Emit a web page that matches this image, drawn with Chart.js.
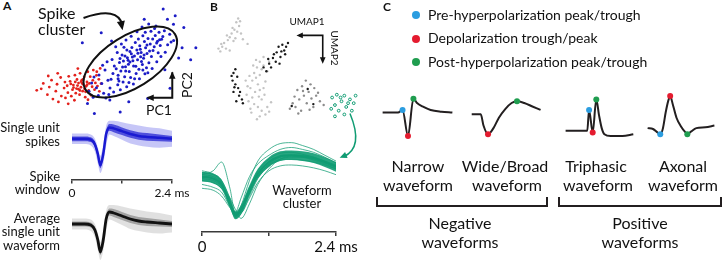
<!DOCTYPE html>
<html>
<head>
<meta charset="utf-8">
<script src="https://cdn.jsdelivr.net/npm/chart.js@4.4.1/dist/chart.umd.min.js"></script>
<style>
body { margin: 0; background: #fff; width: 724px; height: 263px; overflow: hidden; position: relative; font-family: Lato, sans-serif; color: #111; }
canvas { position: absolute; }
.t { position: absolute; white-space: nowrap; }
.dot { position: absolute; width: 8px; height: 8px; border-radius: 50%; }
.br { position: absolute; border: 2px solid #231f20; border-top: none; height: 8px; }
</style>
</head>
<body>
<canvas id="pca" style="left:25px;top:0px" width="180" height="126"></canvas>
<canvas id="umap" style="left:205px;top:5px" width="165" height="170"></canvas>
<canvas id="spk" style="left:62px;top:116px" width="130" height="86"></canvas>
<canvas id="avg" style="left:62px;top:198px" width="130" height="65"></canvas>
<canvas id="grn" style="left:192px;top:130px" width="168" height="128"></canvas>
<canvas id="cNarrow" style="left:375px;top:86px" width="85" height="60"></canvas>
<canvas id="cWide" style="left:465px;top:86px" width="85" height="60"></canvas>
<canvas id="cTri" style="left:558px;top:86px" width="82" height="60"></canvas>
<canvas id="cAxon" style="left:640px;top:86px" width="82" height="60"></canvas>
<div class="br" style="left:376px;top:197px;width:168px"></div>
<div class="br" style="left:558px;top:197px;width:160px"></div>
<script>
// ---- Data ----
// PCA space (PC1, PC2), arbitrary units
const redPC = [
  [-4.55,-1.62],[-4.17,-1.21],[-3.93,-1.88],[-3.82,-1.43],[-3.61,-2.14],[-3.69,-1.02],[-3.44,-1.67],[-3.29,-2.31],[-3.37,-1.26],[-3.12,-1.96],
  [-3.16,-0.86],[-2.96,-1.49],[-2.88,-2.07],[-2.91,-1.13],[-2.74,-1.76],[-2.69,-0.79],[-2.78,-1.35],[-2.54,-1.97],[-2.61,-1.09],[-2.47,-1.58],
  [-2.42,-1.31],[-2.36,-2.21],[-2.33,-0.72],[-2.28,-1.79],[-2.21,-0.98],[-2.24,-1.52],[-2.12,-1.19],[-2.06,-1.88],[-2.03,-0.61],[-1.98,-1.44],
  [-1.93,-1.02],[-1.88,-1.67],[-1.84,-1.27],[-1.79,-0.83],[-1.73,-2.03],[-1.68,-1.38],[-1.63,-1.12],[-1.58,-0.52],[-1.53,-1.63],[-1.49,-1.21],
  [-1.44,-0.81],[-1.39,-1.92],[-1.33,-1.41],[-1.29,-1.03],[-1.26,-0.42],[-1.19,-1.58],[-1.14,-1.18],[-1.08,-0.73],[-1.02,-1.37],[-0.94,-0.97],
  [-0.91,-1.68],[-0.86,-0.32],[-0.81,-1.22],[-3.88,-0.77],[-4.29,-1.53],[-3.33,-0.61],[-2.72,-2.42],[-1.57,-2.18],[-2.16,-0.33],[-1.06,-0.52],
  [-2.18,-1.34],[-1.91,-1.21],[-2.31,-1.12],[-1.77,-1.53],[-2.04,-1.63],[-1.62,-1.29],[-2.41,-1.46],[-1.86,-0.98],[-2.57,-1.24],[-1.71,-1.71],
  [-2.12,-1.55],[-1.97,-1.11]
];
const bluePC = [
  [1.13,0.41],[0.87,0.06],[1.52,0.63],[0.61,-0.22],[1.78,0.91],[0.34,-0.47],[2.05,1.12],[1.31,0.19],[0.95,0.55],[1.66,0.28],
  [0.72,0.31],[1.44,1.02],[2.21,0.74],[0.18,-0.73],[1.92,1.46],[0.49,0.12],[1.08,-0.18],[2.47,1.29],[1.27,0.77],[0.83,-0.51],
  [1.59,-0.09],[2.12,0.38],[0.26,0.03],[1.71,1.27],[0.98,0.92],[2.34,1.63],[0.56,-0.81],[1.39,-0.37],[1.86,0.57],[0.41,0.48],
  [2.63,1.04],[1.18,1.21],[0.07,-0.34],[1.97,0.02],[0.69,0.77],[2.28,0.96],[1.49,0.37],[0.91,-0.86],[1.62,1.61],[0.23,-1.07],
  [2.56,1.82],[1.04,0.14],[1.83,-0.28],[0.52,0.94],[2.09,1.89],[0.78,-0.07],[1.36,1.43],[2.71,1.41],[-0.12,-0.62],[1.23,-0.62],
  [-0.41,-1.03],[-0.77,-1.21],[-1.08,-1.47],[-1.36,-1.18],[-0.58,-0.42],[-0.93,-0.71],[-1.22,-0.83],[-1.51,-1.68],[-0.29,-1.49],[-0.66,-1.79],
  [-0.17,0.21],[0.13,0.62],[0.37,1.13],[-0.46,0.07],[0.64,1.37],[0.94,1.58],[1.28,1.86],[1.57,2.13],[1.96,2.31],[2.38,2.19],
  [2.87,1.92],[3.18,1.71],[3.41,1.33],[3.06,1.08],[2.92,0.64],[2.67,0.39],[2.43,0.08],[2.16,-0.33],[1.74,-0.64],[1.42,-0.93],
  [1.07,-1.24],[0.68,-1.41],[0.31,-1.58],[-0.08,-1.72],[-0.53,-2.07],[-0.97,-1.93],[0.47,-1.12],[0.16,-1.29],[-0.23,-0.96],[0.04,0.97],
  [0.58,0.42],[-0.72,-0.14],[2.78,1.57],[3.26,1.24],[2.51,0.61],[1.91,-0.58],[1.14,-0.94],[0.81,-1.16],[-0.36,-1.87],[-1.27,-2.03],
  [1.47,0.82],[0.29,0.27],[1.69,0.47],[2.01,0.71],[0.76,0.17],[1.33,0.58],[1.86,1.07],[0.62,-0.48],[2.19,1.42],[0.44,-0.24],
  [1.01,0.36],[1.54,0.09],[2.42,1.18],[0.87,0.68],[1.21,-0.19],[-0.04,-0.18],[1.76,1.83],[2.59,1.38],[0.18,-0.94],[1.62,-0.41],
  [4.7,0.9],[3.5,2.8],[2.8,3.2],[3.9,0.9],[1.9,-2.1],[0.3,-2.9],[-1.2,-3.0],[2.3,2.05],[4.4,0.2],[-0.2,1.3],
  [1.7,2.6],[-0.8,1.8],[-1.9,1.2],[0.8,-2.3],[-0.3,-2.2],[3.2,-1.5],[3.05,2.6],[4.0,2.1],[3.7,0.3],[2.9,-0.4],
  [-1.6,-2.4],[3.4,2.3]
];

// UMAP embedding, arbitrary units
const umapLight = [
  [3.0,11.1],[2.8,10.7],[3.1,10.3],[2.6,9.9],[2.3,9.5],[2.1,9.1],[1.9,8.8],[1.5,8.5],[1.3,8.1],[1.7,7.9],
  [2.5,8.7],[3.3,9.5],[2.9,9.7],[3.5,8.9],[2.1,7.7],[1.1,7.6],[0.9,7.9],
  [5.7,7.0],[5.3,6.5],[5.0,5.9],[5.7,6.1],[4.7,5.3],[5.3,5.1],[4.5,4.5],[5.1,4.1],[4.3,3.7],[4.8,3.3],
  [5.3,3.5],[4.5,2.7],[4.1,2.3],[4.7,2.0],[5.1,1.7],[5.5,1.3],[5.9,0.9],[5.3,0.7],[4.3,1.5],[3.9,3.0],
  [5.5,2.5],[6.1,5.5],[4.9,6.7],[6.3,6.5],[3.8,4.5],[5.7,3.7],[6.1,1.7],
  [2.4,10.1],[3.2,10.8],[1.8,9.3],[2.7,9.0],[1.2,8.4],[4.0,8.4],[4.6,6.1],[5.5,5.7],[4.9,4.8],[5.9,4.4],
  [4.0,3.9],[4.4,1.1],[5.0,0.4],[6.3,1.2],[5.8,3.0],[4.2,5.0],[6.5,2.2],[5.2,2.8]
];
const umapDark = [
  [10.2,4.5],[10.7,4.1],[9.8,3.9],[11.1,3.7],[9.3,3.5],[10.5,3.3],[10.0,2.9],[11.3,2.9],[9.5,2.5],[11.7,2.3],
  [8.8,2.1],[10.3,2.1],[9.1,1.7],[11.0,1.7],[8.5,1.5],[12.1,1.9],[9.7,1.3],
  [9.9,3.4],[10.8,2.6],[9.0,2.8],[11.5,3.2],[10.6,1.4],[9.4,1.0]
];
const umapBlack = [
  [7.7,8.3],[7.3,8.1],[7.9,7.7],[7.1,7.5],[7.5,7.0],[6.7,6.9],[7.0,6.5],[6.3,6.3],[6.5,5.9],[6.0,5.5],
  [8.0,7.3],[7.4,6.3],[5.7,5.9],[8.1,8.1],[6.8,7.3],[7.6,7.6],[6.2,6.8],[8.3,8.5],
  [2.7,5.7],[2.5,5.3],[2.9,4.9],[2.4,4.5],[2.7,4.1],[3.0,3.7],[2.5,3.3],[3.1,2.9],[3.4,2.5],[2.8,2.3],[3.5,2.1],
  [2.6,3.8],[3.2,3.3],[2.3,5.0],
  [8.7,1.8],[11.0,2.0],[10.4,3.6]
];
const umapGreen = [
  [13.0,2.7],[13.5,3.0],[14.3,2.9],[14.9,2.5],[15.3,2.1],[14.0,2.3],[13.3,1.9],[14.5,1.7],[15.1,1.3],[13.7,1.3],
  [12.9,1.5],[15.5,2.9],[14.3,0.9],[13.3,0.7],[13.9,2.7],[14.7,2.1]
];

// single-unit spikes (ms, µV)
const spikeT     = [0, 0.3, 0.45, 0.55, 0.62, 0.68, 0.75, 0.82, 0.9, 1.0, 1.2, 1.4, 1.6, 1.8, 2.1, 2.4];
const spikeMean  = [0, 0, -4, -24, -64, -112, -64, 20, 48, 44, 32, 20, 12, 8, 4, 0];
const spikeInHi  = [10, 10, 6, -12, -48, -96, -48, 34, 62, 60, 48, 36, 28, 24, 18, 12];
const spikeInLo  = [-10, -10, -14, -36, -80, -124, -80, 6, 34, 28, 16, 4, -4, -8, -10, -12];
const spikeOutHi = [22, 22, 18, 0, -36, -72, -24, 54, 76, 76, 70, 62, 56, 50, 44, 34];
const spikeOutLo = [-22, -22, -28, -54, -104, -144, -108, -28, 18, 12, -4, -20, -28, -34, -38, -34];
const windowTicks = [0, 1.2, 2.4];
const windowLabels = ['0', '', '2.4 ms'];

// waveform cluster (ms, µV)
const clusterT = [0, 0.2, 0.35, 0.5, 0.6, 0.7, 0.85, 1.0, 1.2, 1.4, 1.6, 1.8, 2.0, 2.2, 2.4];
const clusterMean = [0, -8, -32, -108, -160, -136, -56, 12, 60, 84, 88, 84, 76, 60, 40];
const clusterHi   = [20, 12, -12, -88, -144, -116, -36, 32, 80, 104, 108, 104, 96, 80, 60];
const clusterLo   = [-20, -28, -52, -128, -176, -156, -76, -8, 40, 64, 68, 64, 56, 40, 20];
const clusterTraces = [
  [8, 24, 60, -48, -152, -144, -68, 0, 52, 80, 88, 88, 80, 64, 48],
  [16, 8, -24, -120, -144, -88, 0, 52, 88, 112, 120, 112, 100, 80, 56],
  [-16, -24, -48, -88, -136, -172, -112, -32, 32, 72, 84, 80, 68, 52, 32],
  [8, 0, -28, -112, -164, -120, -16, 64, 112, 136, 140, 128, 112, 88, 64],
  [-32, -44, -64, -124, -168, -152, -88, -24, 24, 44, 48, 44, 36, 24, 8],
  [-8, -16, -40, -100, -152, -144, -72, 0, 48, 72, 80, 80, 72, 56, 40],
  [-48, -56, -80, -128, -156, -128, -48, 24, 72, 96, 100, 92, 80, 64, 44],
  [24, 12, -16, -88, -148, -148, -80, -8, 44, 68, 72, 68, 60, 48, 32]
];

// waveform classes (ms, a.u.) and marker indices [pre, depol, post]
const narrowT = [0.2, 1.05, 1.3, 1.6, 1.9, 2.1, 2.4, 2.85, 3.45, 4.05];
const narrowV = [4, 4, 7, -23, 20, 15, 11, 7, 5, 4];
const narrowMarks = [2, 3, 4];
const wideT = [0.15, 0.65, 0.8, 1.05, 1.35, 1.65, 2.0, 2.35, 2.65, 3.05, 3.5, 3.95];
const wideV = [2, 2, -11, -21, -14, -2, 8, 15, 17, 15, 11, 7];
const wideMarks = [null, 3, 8];
const triT = [0.2, 1.4, 1.5, 1.7, 1.9, 2.05, 2.2, 2.35, 2.7, 3.35, 3.95];
const triV = [-17, -17, 7, -19, 19, 1, -14, -21, -23, -23, -21];
const triMarks = [2, 3, 4];
const axonT = [0.2, 0.5, 0.75, 0.9, 1.05, 1.2, 1.35, 1.45, 1.6, 1.8, 2.05, 2.3, 2.4, 2.6, 2.9, 3.4, 3.9];
const axonV = [-14, -15, -19, -21, -14, 4, 18, 23, 13, -2, -12, -19, -21, -18, -14, -13, -11];
const axonMarks = [3, 7, 12];

const MARK_COLORS = ['#2b9de0', '#e41b2f', '#1f9d4f'];
const legendItems = ['Pre-hyperpolarization peak/trough', 'Depolarization trough/peak', 'Post-hyperpolarization peak/trough'];

// ---- Helpers ----
Chart.defaults.font.family = 'Lato';
Chart.defaults.color = '#111';

const pts = list => list.map(([x, y]) => ({ x, y }));
const series = (t, v) => t.map((x, i) => ({ x, y: v[i] }));

function baseOpts(padding, scales) {
  return {
    responsive: false,
    animation: false,
    events: [],
    layout: { padding },
    elements: { line: { cubicInterpolationMode: 'monotone' } },
    plugins: { legend: { display: false }, tooltip: { enabled: false } },
    scales
  };
}

function arrowHead(ctx, x, y, ang, size) {
  ctx.beginPath();
  ctx.moveTo(x, y);
  ctx.lineTo(x - size * Math.cos(ang - 0.42), y - size * Math.sin(ang - 0.42));
  ctx.lineTo(x - size * Math.cos(ang + 0.42), y - size * Math.sin(ang + 0.42));
  ctx.closePath();
  ctx.fill();
}

function scaleBar(fontSize, tickLen) {
  return {
    type: 'linear', min: 0, max: 2.4, position: 'bottom',
    afterBuildTicks: s => { s.ticks = windowTicks.map(v => ({ value: v })); },
    grid: { drawOnChartArea: false, drawTicks: true, tickLength: tickLen, color: '#3a3a3a', lineWidth: 1.5 },
    border: { display: true, color: '#3a3a3a', width: 1.5 },
    ticks: { autoSkip: false, maxRotation: 0, padding: 2, font: { size: fontSize }, color: '#111',
             callback: (v, i) => windowLabels[i] }
  };
}

// ---- Panel A: PCA scatter ----
const pcaMarks = {
  id: 'pcaMarks',
  afterDatasetsDraw(chart) {
    const { ctx, scales: { x, y } } = chart;
    const X = v => x.getPixelForValue(v), Y = v => y.getPixelForValue(v);
    ctx.save();
    ctx.strokeStyle = '#111'; ctx.fillStyle = '#111'; ctx.lineWidth = 2;
    // cluster ellipse
    ctx.beginPath();
    ctx.ellipse(X(0.89), Y(0.06), X(3.95) - X(0.89), X(2.39) - X(0.89), -32 * Math.PI / 180, 0, 2 * Math.PI);
    ctx.stroke();
    // "Spike cluster" arrow
    const sx = X(-1.83), sy = Y(2.67), cx = X(0.17), cy = Y(3.39), ex = X(0.44), ey = Y(1.94);
    ctx.beginPath(); ctx.moveTo(sx, sy); ctx.quadraticCurveTo(cx, cy, ex, ey - 5); ctx.stroke();
    arrowHead(ctx, ex, ey, Math.atan2(ey - cy, ex - cx), 10);
    // PC axes
    ctx.beginPath();
    ctx.moveTo(X(3.33), Y(-0.55)); ctx.lineTo(X(3.33), Y(-2.06)); ctx.lineTo(X(1.9), Y(-2.06));
    ctx.stroke();
    arrowHead(ctx, X(3.33), Y(-0.5), -Math.PI / 2, 8);
    arrowHead(ctx, X(1.83), Y(-2.06), Math.PI, 8);
    ctx.restore();
  }
};

new Chart(document.getElementById('pca'), {
  type: 'scatter',
  data: { datasets: [
    { data: pts(bluePC), pointRadius: 1.5, backgroundColor: '#1c1cc6', borderWidth: 0 },
    { data: pts(redPC), pointRadius: 1.4, backgroundColor: '#e3211c', borderWidth: 0 }
  ] },
  options: baseOpts(0, { x: { display: false, min: -5, max: 5 }, y: { display: false, min: -3.5, max: 3.5 } }),
  plugins: [pcaMarks]
});

// ---- Panel B: UMAP ----
const umapMarks = {
  id: 'umapMarks',
  afterDatasetsDraw(chart) {
    const { ctx, scales: { x, y } } = chart;
    const X = v => x.getPixelForValue(v), Y = v => y.getPixelForValue(v);
    ctx.save();
    ctx.strokeStyle = '#111'; ctx.fillStyle = '#111'; ctx.lineWidth = 1.6;
    ctx.beginPath();
    ctx.moveTo(X(9.5), Y(9.3)); ctx.lineTo(X(12.0), Y(9.3)); ctx.lineTo(X(12.0), Y(6.6));
    ctx.stroke();
    arrowHead(ctx, X(9.2), Y(9.3), Math.PI, 7);
    arrowHead(ctx, X(12.0), Y(6.3), Math.PI / 2, 7);
    // arrow to waveform cluster
    ctx.strokeStyle = '#109c73'; ctx.fillStyle = '#109c73'; ctx.lineWidth = 1.5;
    const sx = X(14.9), sy = Y(1.0), cx = X(16.4), cy = Y(-2.6), ex = X(13.8), ey = Y(-3.7);
    ctx.beginPath(); ctx.moveTo(sx, sy); ctx.quadraticCurveTo(cx, cy, ex + 4, ey - 1); ctx.stroke();
    arrowHead(ctx, ex, ey, Math.atan2(ey - cy, ex - cx), 8);
    ctx.restore();
  }
};

new Chart(document.getElementById('umap'), {
  type: 'scatter',
  data: { datasets: [
    { data: pts(umapGreen), pointRadius: 1.4, backgroundColor: '#fff', borderColor: '#109c73', borderWidth: 1 },
    { data: pts(umapBlack), pointRadius: 1.2, backgroundColor: '#1a1a1a', borderWidth: 0 },
    { data: pts(umapDark), pointRadius: 1.2, backgroundColor: '#8c8c8c', borderWidth: 0 },
    { data: pts(umapLight), pointRadius: 1.2, backgroundColor: '#c4c4c4', borderWidth: 0 }
  ] },
  options: baseOpts(0, { x: { display: false, min: 0, max: 16.5 }, y: { display: false, min: -5, max: 12 } }),
  plugins: [umapMarks]
});

// ---- Panel A: spikes and average ----
function band(t, hi, lo, color) {
  return [
    { data: series(t, hi), showLine: true, pointRadius: 0, borderWidth: 0, fill: '+1', backgroundColor: color },
    { data: series(t, lo), showLine: true, pointRadius: 0, borderWidth: 0, fill: false }
  ];
}

new Chart(document.getElementById('spk'), {
  type: 'scatter',
  data: { datasets: [
    { data: series(spikeT, spikeMean), showLine: true, pointRadius: 0, borderColor: '#1a1ad2', borderWidth: 2.5 },
    ...band(spikeT, spikeInHi, spikeInLo, 'rgba(28,28,210,0.7)'),
    ...band(spikeT, spikeOutHi, spikeOutLo, 'rgba(50,50,225,0.28)')
  ] },
  options: baseOpts({ left: 10, right: 20, top: 0, bottom: 0 }, {
    x: scaleBar(12, 4),
    y: { display: false, min: -172, max: 96 }
  })
});

new Chart(document.getElementById('avg'), {
  type: 'scatter',
  data: { datasets: [
    { data: series(spikeT, spikeMean), showLine: true, pointRadius: 0, borderColor: '#111', borderWidth: 2.8 },
    ...band(spikeT, spikeInHi, spikeInLo, 'rgba(0,0,0,0.28)'),
    ...band(spikeT, spikeOutHi, spikeOutLo, 'rgba(0,0,0,0.12)')
  ] },
  options: baseOpts({ left: 10, right: 20, top: 0, bottom: 0 }, {
    x: { display: false, min: 0, max: 2.4 },
    y: { display: false, min: -156, max: 104 }
  })
});

// ---- Panel B: waveform cluster ----
new Chart(document.getElementById('grn'), {
  type: 'scatter',
  data: { datasets: [
    ...clusterTraces.map(v => ({ data: series(clusterT, v), showLine: true, pointRadius: 0,
                                borderColor: 'rgba(16,156,115,0.75)', borderWidth: 1 })),
    { data: series(clusterT, clusterMean), showLine: true, pointRadius: 0, borderColor: '#109c73', borderWidth: 2 },
    ...band(clusterT, clusterHi, clusterLo, 'rgba(16,156,115,0.9)')
  ] },
  options: baseOpts({ left: 10, right: 24, top: 0, bottom: 0 }, {
    x: scaleBar(15, 4),
    y: { display: false, min: -228, max: 192 }
  })
});

// ---- Panel C: waveform classes ----
function classChart(id, t, v, marks, xMax) {
  const markSets = marks.map((idx, k) => idx === null ? null : {
    data: [{ x: t[idx], y: v[idx] }], pointRadius: 3, backgroundColor: MARK_COLORS[k], borderWidth: 0, order: 0
  }).filter(Boolean);
  new Chart(document.getElementById(id), {
    type: 'scatter',
    data: { datasets: [
      ...markSets,
      { data: series(t, v), showLine: true, pointRadius: 0, borderColor: '#231f20', borderWidth: 2, order: 1 }
    ] },
    options: baseOpts(0, { x: { display: false, min: 0, max: xMax }, y: { display: false, min: -30, max: 30 } })
  });
}
classChart('cNarrow', narrowT, narrowV, narrowMarks, 4.25);
classChart('cWide', wideT, wideV, wideMarks, 4.25);
classChart('cTri', triT, triV, triMarks, 4.1);
classChart('cAxon', axonT, axonV, axonMarks, 4.1);

// ---- Text ----
function put(txt, x, base, size, align, extra) {
  const d = document.createElement('div');
  d.className = 't';
  d.textContent = txt;
  d.style.fontSize = size + 'px';
  d.style.lineHeight = size + 'px';
  d.style.left = x + 'px';
  d.style.top = (base - 0.887 * size) + 'px';
  if (align === 'center') d.style.transform = 'translateX(-50%)';
  if (align === 'right') d.style.transform = 'translateX(-100%)';
  Object.assign(d.style, extra || {});
  document.body.appendChild(d);
}
function putRot(txt, cx, cy, size, deg) {
  const d = document.createElement('div');
  d.className = 't';
  d.textContent = txt;
  d.style.fontSize = size + 'px';
  d.style.lineHeight = size + 'px';
  d.style.left = cx + 'px';
  d.style.top = cy + 'px';
  d.style.transform = 'translate(-50%,-50%) rotate(' + deg + 'deg)';
  document.body.appendChild(d);
}

put('A', 3, 11, 12, 'left', { fontWeight: 'bold' });
put('B', 210, 12, 12, 'left', { fontWeight: 'bold' });
put('C', 383, 12, 12, 'left', { fontWeight: 'bold' });

put('Spike', 38, 19, 16, 'left');
put('cluster', 38, 35, 16, 'left');
put('PC1', 159, 115, 14, 'center');
putRot('PC2', 187, 85, 14, -90);

put('Single unit', 60, 133, 13, 'right');
put('spikes', 60, 147, 13, 'right');
put('Spike', 60, 182, 13, 'right');
put('window', 60, 195, 13, 'right');
put('Average', 60, 224, 13, 'right');
put('single unit', 60, 237, 13, 'right');
put('waveform', 60, 251, 13, 'right');

put('UMAP1', 307, 25, 10, 'center');
putRot('UMAP2', 335, 48, 10, 90);
put('Waveform', 302, 196, 13, 'center');
put('cluster', 302, 209, 13, 'center');

legendItems.forEach((txt, i) => {
  const d = document.createElement('div');
  d.className = 'dot';
  d.style.background = MARK_COLORS[i];
  d.style.left = '412px';
  d.style.top = (11 + i * 23.5) + 'px';
  document.body.appendChild(d);
  put(txt, 428, 20 + i * 23.5, 14, 'left');
});

put('Narrow', 418, 172, 16, 'center');
put('waveform', 418, 191, 16, 'center');
put('Wide/Broad', 505, 172, 16, 'center');
put('waveform', 507, 191, 16, 'center');
put('Triphasic', 596, 172, 16, 'center');
put('waveform', 598, 191, 16, 'center');
put('Axonal', 683, 172, 16, 'center');
put('waveform', 683, 191, 16, 'center');
put('Negative', 460, 229, 16, 'center');
put('waveforms', 460, 248, 16, 'center');
put('Positive', 640, 229, 16, 'center');
put('waveforms', 640, 248, 16, 'center');
</script>
</body>
</html>
